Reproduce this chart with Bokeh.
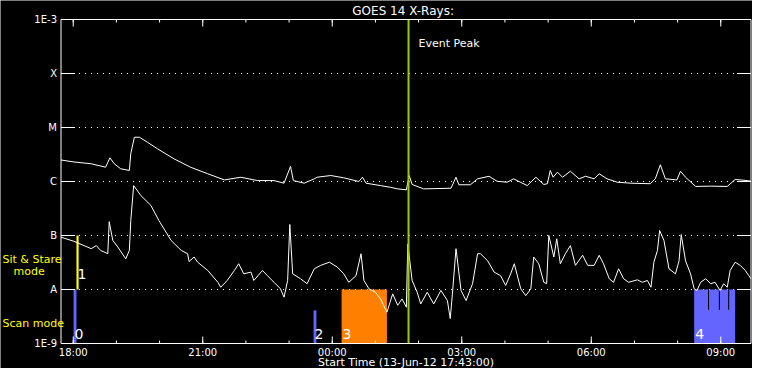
import math
from bokeh.plotting import figure
from bokeh.models import Range1d, ColumnDataSource
from bokeh.embed import file_html
from bokeh.resources import INLINE
from bokeh.core.properties import value

# ---- data (time in minutes after 13-Jun-12 18:00, flux in W/m^2) ----
long_t = [-17, 1, 25, 45, 51, 57, 66, 78, 80, 85, 92, 103, 117, 140, 163, 187, 210, 233, 256, 279,
          293, 302, 306, 321, 335, 339, 358, 376, 397, 402, 407, 427, 441, 451, 463, 467, 471, 487, 525, 532,
          536, 552, 562, 578, 589, 603, 612, 631, 643, 654, 659, 663, 667, 673, 680, 691, 703, 712, 724, 731,
          742, 756, 775, 802, 809, 816, 823, 839, 844, 851, 865, 886, 909, 920, 937, 942]
long_f = [2.5e-6, 2.3e-6, 2.13e-6, 1.84e-6, 2.75e-6, 2.13e-6, 1.72e-6, 1.6e-6, 3.3e-6, 6.6e-6,
          6.6e-6, 5.35e-6, 4.04e-6, 2.63e-6, 1.84e-6, 1.39e-6, 1.07e-6, 1.2e-6, 1.04e-6, 1.04e-6,
          0.93e-6, 1.9e-6, 1.04e-6, 0.93e-6, 1.12e-6, 1.2e-6, 1.29e-6, 1.17e-6, 1.0e-6, 1.2e-6,
          0.93e-6, 0.84e-6, 0.78e-6, 0.73e-6, 0.70e-6, 1.29e-6, 0.88e-6, 0.73e-6, 0.75e-6, 1.2e-6,
          0.87e-6, 0.87e-6, 1.12e-6, 1.25e-6, 1.01e-6, 0.97e-6, 1.12e-6, 0.84e-6, 1.2e-6, 0.88e-6,
          0.91e-6, 1.6e-6, 1.2e-6, 1.49e-6, 1.2e-6, 1.55e-6, 1.12e-6, 1.25e-6, 1.12e-6, 1.39e-6,
          1.12e-6, 0.97e-6, 0.93e-6, 0.91e-6, 1.12e-6, 2.04e-6, 1.12e-6, 1.07e-6, 1.55e-6, 1.2e-6,
          0.81e-6, 0.82e-6, 0.81e-6, 1.09e-6, 1.04e-6, 1.01e-6]

short_t = [-17, 1, 25, 32, 38, 48, 50, 55, 62, 73, 78, 80, 84, 94, 108, 119, 136, 150, 159, 161,
           168, 173, 187, 201, 205, 214, 224, 230, 237, 247, 251, 263, 270, 279, 288, 293, 298, 301, 305, 316,
           325, 335, 344, 356, 367, 376, 383, 393, 400, 404, 411, 420, 427, 436, 444, 451, 457, 463, 465, 471,
           478, 483, 492, 501, 511, 520, 524, 527, 532, 539, 546, 555, 562, 566, 576, 585, 594, 601, 608, 613,
           622, 629, 636, 640, 647, 654, 658, 661, 668, 672, 677, 684, 691, 698, 708, 715, 724, 731, 737, 745,
           751, 758, 765, 772, 784, 791, 798, 803, 807, 812, 815, 821, 828, 837, 842, 845, 851, 858, 863, 867,
           872, 879, 886, 892, 899, 904, 909, 913, 920, 927, 934, 939, 942]
short_f = [9.3e-8, 7.8e-8, 5.7e-8, 6.5e-8, 5.3e-8, 4.6e-8, 1.8e-7, 8.1e-8, 6.1e-8, 3.7e-8,
           5.3e-8, 1.9e-7, 8.4e-7, 5.5e-7, 3.6e-7, 1.9e-7, 8.1e-8, 5.3e-8, 4.6e-8, 3.3e-8,
           4.0e-8, 3.2e-8, 2.25e-8, 1.36e-8, 1.1e-8, 1.47e-8, 2.25e-8, 3.0e-8, 1.95e-8, 2.1e-8,
           1.47e-8, 2.25e-8, 1.8e-8, 1.36e-8, 1.03e-8, 7.2e-9, 1.47e-8, 1.6e-7, 1.95e-8, 1.58e-8,
           1.28e-8, 2.42e-8, 2.8e-8, 3.2e-8, 2.6e-8, 1.95e-8, 1.36e-8, 1.8e-8, 4.6e-8, 1.47e-8,
           1.03e-8, 8.9e-9, 6.7e-9, 3.8e-9, 8.3e-9, 5.1e-9, 6.7e-9, 4.7e-9, 7.0e-8, 1.47e-8,
           8.9e-9, 5.4e-9, 8.9e-9, 5.4e-9, 9.6e-9, 6.25e-9, 2.9e-9, 8.3e-9, 5.7e-8, 9.6e-9,
           6.25e-9, 1.28e-8, 4.6e-8, 4.6e-8, 3.4e-8, 2.1e-8, 1.8e-8, 1.19e-8, 1.95e-8, 3.0e-8,
           1.03e-8, 7.7e-9, 1.03e-8, 4.0e-8, 3.0e-8, 1.36e-8, 1.28e-8, 1.0e-7, 4.0e-8, 8.7e-8,
           3.0e-8, 4.6e-8, 6.5e-8, 2.8e-8, 4.3e-8, 2.8e-8, 2.8e-8, 4.3e-8, 3.0e-8, 1.58e-8,
           1.36e-8, 2.42e-8, 1.58e-8, 1.36e-8, 1.51e-8, 1.36e-8, 1.47e-8, 1.1e-8, 3.2e-8, 5.3e-8,
           1.24e-7, 8.1e-8, 2.42e-8, 1.95e-8, 3.4e-8, 1.04e-7, 3.4e-8, 1.95e-8, 1.03e-8, 9.6e-9,
           1.36e-8, 1.58e-8, 1.28e-8, 1.36e-8, 9.6e-9, 1.28e-8, 1.1e-8, 2.25e-8, 3.2e-8, 2.8e-8,
           2.25e-8, 1.8e-8, 1.58e-8]

# observing-mode intervals
mode_labels = ["0", "1", "2", "3", "4"]
mode_start = [0.5, 4.5, 334, 373, 863]
mode_end = [4.5, 7.5, 338, 436, 920]
mode_bottom = [1e-9, 1e-8, 1e-9, 1e-9, 1e-9]
mode_top = [1e-8, 1e-7, 4.1e-9, 1e-8, 1e-8]
mode_colors = ["#6464ff", "#ffff00", "#6464ff", "#ff8000", "#6464ff"]
mode_label_lift = [-5, -11, -5, -5, -5]   # style: label raise in px

gap_t = [883, 898, 911]
gap_bottom = [4.2e-9, 4.2e-9, 4.2e-9]
gap_top = [1e-8, 1e-8, 1e-8]

event_peak_t = 466
t_start, t_end = -17, 942
y_min, y_max = 1e-9, 1e-3

y_ticks = [1e-9, 1e-8, 1e-7, 1e-6, 1e-5, 1e-4, 1e-3]
y_labels = ["1E-9", "A", "B", "C", "M", "X", "1E-3"]
x_ticks = [0, 180, 360, 540, 720, 900]
x_labels = ["18:00", "21:00", "00:00", "03:00", "06:00", "09:00"]
x_minor = [0, 60, 120, 180, 240, 300, 360, 420, 480, 540, 600, 660, 720, 780, 840, 900]

title_text = "GOES 14 X-Rays:"
xaxis_text = "Start Time (13-Jun-12 17:43:00)"
mode_names = ["Sit & Stare", "mode", "Scan mode"]

# ---- layout (canvas pixels) ----
W, H = 752, 368
box_l, box_r, box_t, box_b = 60.5, 750.5, 19.0, 343.0
mpp = (t_end - t_start) / (box_r - box_l)
lmin, lmax = math.log10(y_min), math.log10(y_max)
dpp = (lmax - lmin) / (box_b - box_t)
x_range = Range1d(t_start - box_l * mpp, t_end + (W - box_r) * mpp)
y_range = Range1d(10 ** (lmin - (H - box_b) * dpp), 10 ** (lmax + box_t * dpp))

FONT = value("DejaVu Sans")
WHITE = "white"

p = figure(width=W, height=H, x_range=x_range, y_range=y_range, y_axis_type="log",
           x_axis_location=None, y_axis_location=None, title=None,
           output_backend="svg", toolbar_location=None, min_border=0,
           background_fill_color="black", border_fill_color="black",
           outline_line_color=None)
p.grid.visible = False

# grid lines (dotted) at inner decades
inner = y_ticks[1:-1]
p.segment(x0=[t_start] * len(inner), x1=[t_end] * len(inner), y0=inner, y1=inner,
          line_color=WHITE, line_dash="1 5", line_width=1)

# mode bars
src = ColumnDataSource(dict(left=mode_start, right=mode_end, bottom=mode_bottom,
                            top=mode_top, color=mode_colors, label=mode_labels,
                            lift=mode_label_lift))
p.quad(left="left", right="right", bottom="bottom", top="top", fill_color="color",
       line_color=None, source=src)
p.segment(x0=gap_t, x1=gap_t, y0=gap_bottom, y1=gap_top, line_color="black", line_width=1)

# flux curves
p.line(long_t, long_f, line_color=WHITE, line_width=1)
p.line(short_t, short_f, line_color=WHITE, line_width=1)

p.text(x="left", y="bottom", text="label", source=src, text_color=WHITE,
       text_font=FONT, text_font_size="14px", text_baseline="bottom",
       text_align="left", x_offset=1, y_offset="lift")

# event peak
p.segment(x0=[event_peak_t], x1=[event_peak_t], y0=[y_min], y1=[y_max],
          line_color="#99cc00", line_width=2)
p.text(x=[event_peak_t], y=[y_max], text=["Event Peak"], text_color=WHITE,
       text_font=FONT, text_font_size="11px", text_baseline="middle",
       text_align="left", x_offset=10, y_offset=24)

# plot box
p.segment(x0=[t_start, t_start, t_start, t_end], x1=[t_end, t_end, t_start, t_end],
          y0=[y_min, y_max, y_min, y_min], y1=[y_min, y_max, y_max, y_max],
          line_color=WHITE, line_width=1)

# ticks (inward)
n = len(y_ticks)
p.ray(x=[t_start] * n, y=y_ticks, length=14, length_units="screen", angle=0,
      line_color=WHITE)
p.ray(x=[t_end] * n, y=y_ticks, length=14, length_units="screen", angle=math.pi,
      line_color=WHITE)
m = len(x_minor)
p.ray(x=x_minor, y=[y_min] * m, length=3, length_units="screen", angle=math.pi / 2,
      line_color=WHITE)
p.ray(x=x_minor, y=[y_max] * m, length=3, length_units="screen", angle=-math.pi / 2,
      line_color=WHITE)
k = len(x_ticks)
p.ray(x=x_ticks, y=[y_min] * k, length=7, length_units="screen", angle=math.pi / 2,
      line_color=WHITE)
p.ray(x=x_ticks, y=[y_max] * k, length=7, length_units="screen", angle=-math.pi / 2,
      line_color=WHITE)

# tick labels
p.text(x=[t_start] * n, y=y_ticks, text=y_labels, text_color=WHITE, text_font=FONT,
       text_font_size="10px", text_align="right", text_baseline="middle", x_offset=-4)
p.text(x=x_ticks, y=[y_min] * k, text=x_labels, text_color=WHITE, text_font=FONT,
       text_font_size="10px", text_align="center", text_baseline="middle", y_offset=9)

# titles
mid = (t_start + t_end) / 2
p.text(x=[mid - 4], y=[y_max], text=[title_text], text_color=WHITE, text_font=FONT,
       text_font_size="12px", text_align="center", text_baseline="middle", y_offset=-9)
p.text(x=[mid], y=[y_min], text=[xaxis_text], text_color=WHITE, text_font=FONT,
       text_font_size="11px", text_align="center", text_baseline="middle", y_offset=19)

# observing mode names (yellow, left margin)
p.text(x=[t_start] * 3, y=[1e-8, 1e-8, 1e-9], text=mode_names, text_color="#ffff00",
       text_font=FONT, text_font_size="11px", text_align="left", text_baseline="middle",
       x_offset=[-58.5, -47.5, -58.5], y_offset=[-30, -18, -20])

open("out.html", "w").write(file_html(p, INLINE))
